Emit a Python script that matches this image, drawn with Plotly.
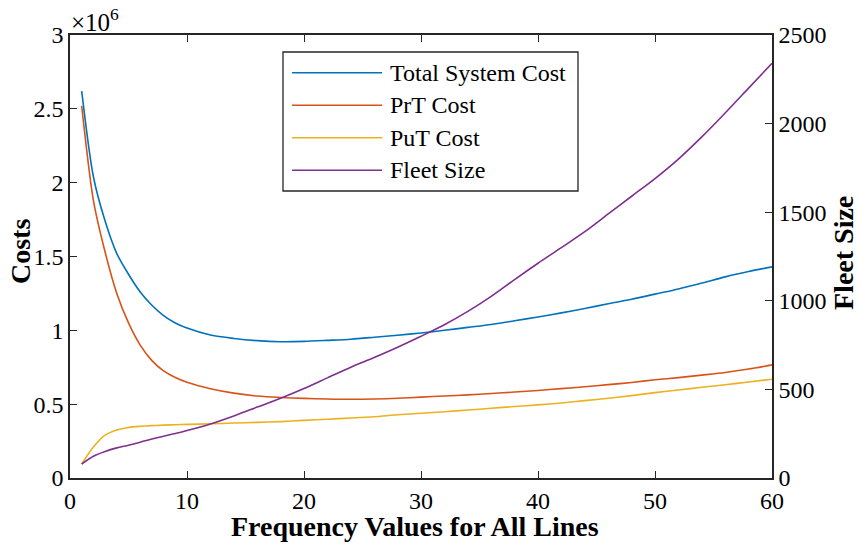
import plotly.graph_objects as go

# ---- data ----
freq = [1, 2, 3, 4, 5, 6, 7, 8, 9, 10, 12, 14, 16, 18, 20, 22, 24, 26, 28, 30,
        32, 34, 36, 38, 40, 42, 44, 46, 48, 50, 52, 54, 56, 58, 60]

total_cost = [2.62, 2.04, 1.74, 1.52, 1.38, 1.26, 1.17, 1.10, 1.05, 1.015,
              0.968, 0.945, 0.93, 0.923, 0.925, 0.932, 0.94, 0.953, 0.967, 0.982,
              1.0, 1.02, 1.04, 1.065, 1.09, 1.118, 1.148, 1.18, 1.21, 1.245,
              1.28, 1.32, 1.362, 1.398, 1.43]
total_cost = [v * 1e6 for v in total_cost]

prt_cost = [2.52, 1.88, 1.53, 1.25, 1.05, 0.90, 0.795, 0.725, 0.68, 0.648,
            0.605, 0.575, 0.555, 0.545, 0.539, 0.535, 0.533, 0.535, 0.54, 0.548,
            0.555, 0.563, 0.572, 0.582, 0.593, 0.605, 0.618, 0.632, 0.647, 0.665,
            0.68, 0.697, 0.715, 0.738, 0.766]
prt_cost = [v * 1e6 for v in prt_cost]

put_cost = [0.095, 0.21, 0.29, 0.325, 0.342, 0.35, 0.355, 0.358, 0.361, 0.363,
            0.367, 0.372, 0.377, 0.382, 0.39, 0.398, 0.406, 0.415, 0.428, 0.438,
            0.449, 0.46, 0.472, 0.484, 0.495, 0.508, 0.524, 0.54, 0.558, 0.578,
            0.596, 0.614, 0.632, 0.65, 0.669]
put_cost = [v * 1e6 for v in put_cost]

fleet_size = [79, 123, 150, 170, 185, 202, 220, 236, 251, 268,
              305, 350, 400, 450, 505, 565, 625, 680, 738, 800,
              865, 940, 1025, 1120, 1212, 1300, 1390, 1490, 1590, 1690,
              1800, 1925, 2060, 2200, 2340]

series_names = ["Total System Cost", "PrT Cost", "PuT Cost", "Fleet Size"]
colors = ["#0072BD", "#D95319", "#EDB120", "#7E2F8E"]

left_ticks = [0, 0.5e6, 1e6, 1.5e6, 2e6, 2.5e6, 3e6]
left_tick_text = ["0", "0.5", "1", "1.5", "2", "2.5", "3"]
right_ticks = [0, 500, 1000, 1500, 2000, 2500]
x_ticks = [0, 10, 20, 30, 40, 50, 60]

FONT = "Liberation Serif"
AXC = "#262626"
TICK = 24
TITLE = 28

W, H = 859, 544
ML, MR, MT, MB = 70, 87, 35, 66

fig = go.Figure()
for name, ys, c, ax in zip(series_names,
                           [total_cost, prt_cost, put_cost, fleet_size],
                           colors, ["y", "y", "y", "y2"]):
    fig.add_trace(go.Scatter(x=freq, y=ys, mode="lines", name=name,
                             line=dict(color=c, width=1.6, shape="spline",
                                       smoothing=0.8),
                             yaxis=ax, showlegend=False))

axis_common = dict(ticks="inside", ticklen=7, tickcolor=AXC, tickwidth=1.3,
                   showline=True, linecolor=AXC, linewidth=1.5,
                   showgrid=False, zeroline=False, automargin=False,
                   tickfont=dict(family=FONT, size=TICK, color="black"))

fig.update_layout(
    width=W, height=H,
    margin=dict(l=ML, r=MR, t=MT, b=MB, autoexpand=False),
    paper_bgcolor="white", plot_bgcolor="white",
    font=dict(family=FONT, size=TICK, color="black"),
    xaxis=dict(range=[0, 60], tickvals=x_ticks, mirror="ticks", **axis_common),
    yaxis=dict(range=[0, 3e6], tickvals=left_ticks, ticktext=left_tick_text,
               **axis_common),
    yaxis2=dict(range=[0, 2500], tickvals=right_ticks, overlaying="y",
                side="right", **axis_common),
)

pw, ph = W - ML - MR, H - MT - MB


def px2x(px):
    return (px - ML) / pw


def px2y(py):
    return 1 - (py - MT) / ph


# axis titles
fig.add_annotation(x=px2x(415), y=px2y(526), xref="paper", yref="paper",
                   showarrow=False, text="<b>Frequency Values for All Lines</b>",
                   font=dict(family=FONT, size=TITLE), xanchor="center",
                   yanchor="middle")
fig.add_annotation(x=px2x(20), y=px2y(252), xref="paper", yref="paper",
                   showarrow=False, text="<b>Costs</b>", textangle=-90,
                   font=dict(family=FONT, size=TITLE), xanchor="center",
                   yanchor="middle")
fig.add_annotation(x=px2x(843), y=px2y(253), xref="paper", yref="paper",
                   showarrow=False, text="<b>Fleet Size</b>", textangle=-90,
                   font=dict(family=FONT, size=TITLE), xanchor="center",
                   yanchor="middle")

# exponent label
fig.add_annotation(x=px2x(69), y=px2y(20), xref="paper", yref="paper",
                   xanchor="left", yanchor="middle", showarrow=False,
                   text="×10<sup>6</sup>", font=dict(family=FONT, size=25))

# legend box drawn in MATLAB style
fig.add_shape(type="rect", xref="paper", yref="paper",
              x0=px2x(283), x1=px2x(578), y0=px2y(191), y1=px2y(52),
              line=dict(color=AXC, width=1.3), fillcolor="white", layer="above")
rows = [72.7, 105.2, 137.7, 170.2]
for name, c, ry in zip(series_names, colors, rows):
    fig.add_shape(type="line", xref="paper", yref="paper",
                  x0=px2x(292), x1=px2x(382), y0=px2y(ry), y1=px2y(ry),
                  line=dict(color=c, width=1.6), layer="above")
    fig.add_annotation(x=px2x(388), y=px2y(ry), xref="paper", yref="paper",
                       xanchor="left", yanchor="middle", showarrow=False,
                       text=name, font=dict(family=FONT, size=TICK, color="black"))

# remove the page's default body margin so the figure fills the window exactly
fig.write_html("out.html",
               config={"displayModeBar": False},
               post_script="document.body.style.margin='0';"
                           "document.body.style.overflow='hidden';")
